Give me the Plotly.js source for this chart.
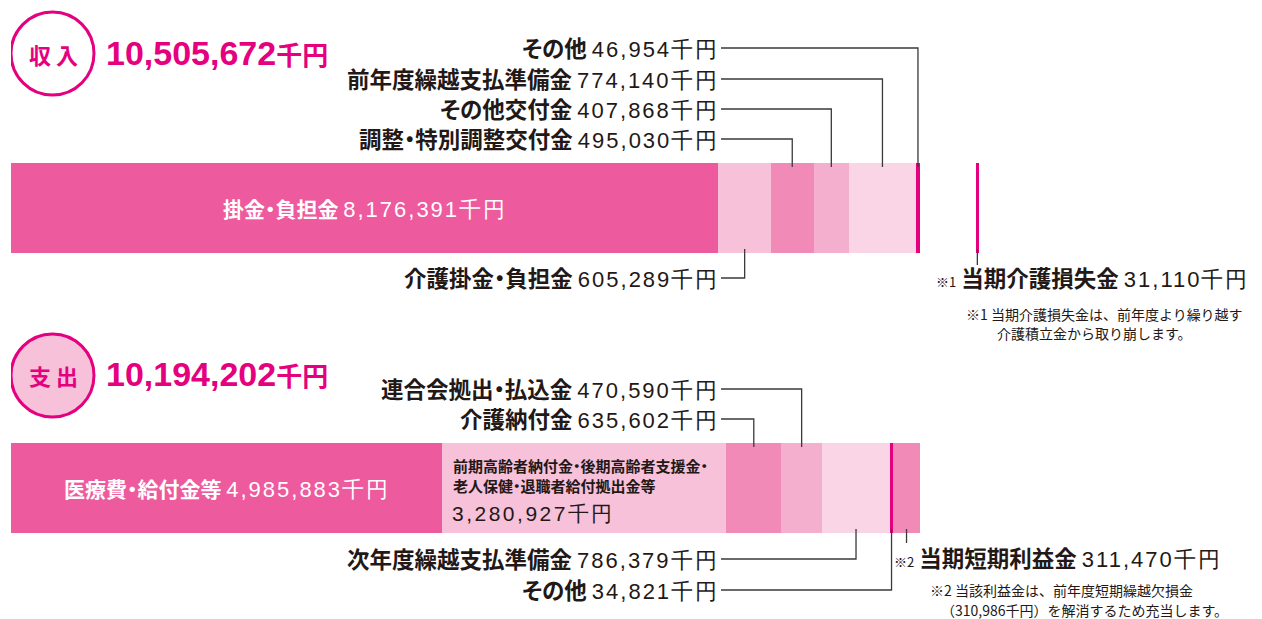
<!DOCTYPE html>
<html><head><meta charset="utf-8">
<script src="https://cdn.plot.ly/plotly-3.0.1.min.js"></script>
<style>html,body{margin:0;padding:0;background:#fff}#chart{width:1262px;height:619px}
svg text{font-feature-settings:"palt" 1;}</style>
</head><body><div id="chart"></div>
<script>
// ---- data (単位：千円) ----
const revenueTitle = '収入';
const revenueTotal = 10505672;
const revenueLabels = ['掛金・負担金', '介護掛金・負担金', '調整・特別調整交付金', 'その他交付金', '前年度繰越支払準備金', 'その他'];
const revenueValues = [8176391, 605289, 495030, 407868, 774140, 46954];
const lossLabel = '当期介護損失金';
const lossValue = 31110;
const expenseTitle = '支出';
const expenseTotal = 10194202;
const expenseLabels = ['医療費・給付金等', '前期高齢者納付金・後期高齢者支援金・<br>老人保健・退職者給付拠出金等', '介護納付金', '連合会拠出・払込金', '次年度繰越支払準備金', 'その他'];
const expenseValues = [4985883, 3280927, 635602, 470590, 786379, 34821];
const profitLabel = '当期短期利益金';
const profitValue = 311470;
const note1Lines = ['※1 当期介護損失金は、前年度より繰り越す', '介護積立金から取り崩します。'];
const note2Lines = ['※2 当該利益金は、前年度短期繰越欠損金', '（310,986千円）を解消するため充当します。'];
const unit = '千円';

// ---- styling / layout ----
const W = 1262, H = 619, L = 11, BAR_PX = 909;
const upp = revenueTotal / BAR_PX;            // value units per pixel
const xOf = px => (px - L) * upp;
const MAG = '#E4007F', C_DARK = '#EE5A9E', C_LIGHT = '#F6C1D9', C_MED = '#F18AB6', C_MEDL = '#F4AFCF', C_VL = '#F9D5E5';
const TXT = '#231815', LINE = '#3a3a3a';
const NUMF = 'Liberation Sans';
const fmt = v => v.toLocaleString('en-US');
const num = (v, sz, ls) => `<span style="font-family:${NUMF};font-weight:normal;letter-spacing:${ls == null ? 2 : ls}px;font-size:${sz || 22}px">${fmt(v)}${unit}</span>`;
const noPalt = t => `<span style="font-feature-settings:normal">${t}</span>`;
const cum = a => { let s = 0; return a.map(v => { const b = s; s += v; return b; }); };

const REV_Y = 208, EXP_Y = 488, BAR_H = 90;
const revBase = cum(revenueValues);
const expAll = expenseValues.concat([profitValue]);
const expBase = cum(expAll);
const revColors = [C_DARK, C_LIGHT, C_MED, C_MEDL, C_VL, MAG];
const expColors = [C_DARK, C_LIGHT, C_MED, C_MEDL, C_VL, MAG, C_MED];
const lossBase = revenueTotal + 56 * upp;

const traces = [
  {type: 'bar', orientation: 'h', y: revenueValues.map(() => REV_Y), x: revenueValues, base: revBase,
   width: BAR_H, marker: {color: revColors, line: {width: 0}}, hoverinfo: 'skip'},
  {type: 'bar', orientation: 'h', y: expAll.map(() => EXP_Y), x: expAll, base: expBase,
   width: BAR_H, marker: {color: expColors, line: {width: 0}}, hoverinfo: 'skip'},
  {type: 'bar', orientation: 'h', y: [REV_Y], x: [lossValue], base: [lossBase],
   width: BAR_H, marker: {color: MAG, line: {width: 0}}, hoverinfo: 'skip'}
];

const shapes = [], annotations = [];
const LBL_X = xOf(720), LINE_X0 = xOf(721);
const ann = (o) => annotations.push(Object.assign({xref: 'x', yref: 'y', showarrow: false, yanchor: 'middle', borderpad: 0,
  font: {family: 'Noto Sans CJK JP', size: 22.5, color: TXT}}, o));
const path = (d) => shapes.push({type: 'path', xref: 'x', yref: 'y', path: d, line: {color: LINE, width: 1.3}});

function callout(name, value, base, ly, barEdge) {
  const mx = base + value / 2;
  ann({x: LBL_X, y: ly, xanchor: 'right', text: `<b>${name}</b> ${num(value)}`});
  path(`M ${LINE_X0},${ly + 1} H ${mx} V ${barEdge}`);
}
const revTop = REV_Y - BAR_H / 2 + 4, revBot = REV_Y + BAR_H / 2 - 4;
const expTop = EXP_Y - BAR_H / 2 + 4, expBot = EXP_Y + BAR_H / 2 - 4;

[[5, 47], [4, 78], [3, 108], [2, 138]].forEach(([i, ly]) => callout(revenueLabels[i], revenueValues[i], revBase[i], ly, revTop));
callout(revenueLabels[1], revenueValues[1], revBase[1], 277, revBot);
[[3, 388], [2, 418]].forEach(([i, ly]) => callout(expenseLabels[i], expenseValues[i], expBase[i], ly, expTop));
[[4, 558], [5, 589]].forEach(([i, ly]) => callout(expenseLabels[i], expenseValues[i], expBase[i], ly, expBot));

// inside-bar labels
ann({x: revBase[0] + revenueValues[0] / 2, y: REV_Y, xanchor: 'center', font: {family: 'Noto Sans CJK JP', size: 21, color: '#fff'},
     text: `<b>${revenueLabels[0]}</b> ${num(revenueValues[0], 22, 2)}`});
ann({x: expBase[0] + expenseValues[0] / 2, y: EXP_Y, xanchor: 'center', font: {family: 'Noto Sans CJK JP', size: 21, color: '#fff'},
     text: `<b>${expenseLabels[0]}</b> ${num(expenseValues[0], 22, 2)}`});
ann({x: expBase[1] + 10 * upp, y: 475, xanchor: 'left', align: 'left', font: {family: 'Noto Sans CJK JP', size: 15, color: TXT},
     text: `<b>${expenseLabels[1]}</b>`});
ann({x: expBase[1] + 9 * upp, y: 513, xanchor: 'left', font: {family: 'Noto Sans CJK JP', size: 21, color: TXT},
     text: num(expenseValues[1], 21, 2.5)});

// loss (※1)
const lossMid = lossBase + lossValue / 2;
path(`M ${lossMid},${revBot} V 265`);
ann({x: xOf(935), y: 277, xanchor: 'left', text: `<span style="font-size:13px;font-weight:normal">※1</span> <b>${lossLabel}</b> ${num(lossValue)}`});
ann({x: xOf(965), y: 314, xanchor: 'left', font: {family: 'Noto Sans CJK JP', size: 14, color: TXT}, text: noPalt(note1Lines[0])});
ann({x: xOf(996), y: 333, xanchor: 'left', font: {family: 'Noto Sans CJK JP', size: 14, color: TXT}, text: noPalt(note1Lines[1])});

// profit (※2)
const profMid = expBase[6] + profitValue / 2;
path(`M ${profMid},${expBot} V 543`);
ann({x: xOf(893), y: 557, xanchor: 'left', text: `<span style="font-size:13px;font-weight:normal">※2</span> <b>${profitLabel}</b> ${num(profitValue)}`});
ann({x: xOf(929), y: 590, xanchor: 'left', font: {family: 'Noto Sans CJK JP', size: 14, color: TXT}, text: noPalt(note2Lines[0])});
ann({x: xOf(940), y: 610, xanchor: 'left', font: {family: 'Noto Sans CJK JP', size: 14, color: TXT}, text: noPalt(note2Lines[1])});

// header circles and totals
shapes.push({type: 'circle', xref: 'x', yref: 'y', x0: xOf(11), x1: xOf(94), y0: 12, y1: 95, line: {color: MAG, width: 3}, fillcolor: '#fff', layer: 'above'});
shapes.push({type: 'circle', xref: 'x', yref: 'y', x0: xOf(11), x1: xOf(94), y0: 334, y1: 417, line: {color: MAG, width: 3}, fillcolor: C_LIGHT, layer: 'above'});
const circ = (t, y) => ann({x: xOf(53), y: y, xanchor: 'center', font: {family: 'Noto Sans CJK JP', size: 22, color: MAG},
  text: `<b>${t.split('').join(' ')}</b>`});
circ(revenueTitle, 54); circ(expenseTitle, 375);
const tot = (v, y) => ann({x: xOf(105), y: y, xanchor: 'left', font: {family: 'Liberation Sans', size: 34, color: MAG},
  text: `<b>${fmt(v)}<span style="font-size:26px;font-family:Noto Sans CJK JP">${unit}</span></b>`});
tot(revenueTotal, 53); tot(expenseTotal, 374);

const layout = {
  width: W, height: H, margin: {l: L, r: 0, t: 0, b: 0, pad: 0},
  paper_bgcolor: '#fff', plot_bgcolor: '#fff', showlegend: false, barmode: 'overlay', bargap: 0,
  hovermode: false,
  xaxis: {range: [0, (W - L) * upp], visible: false, fixedrange: true},
  yaxis: {range: [H, 0], visible: false, fixedrange: true},
  shapes: shapes, annotations: annotations
};
Plotly.newPlot('chart', traces, layout, {displayModeBar: false, staticPlot: true});
</script></body></html>
